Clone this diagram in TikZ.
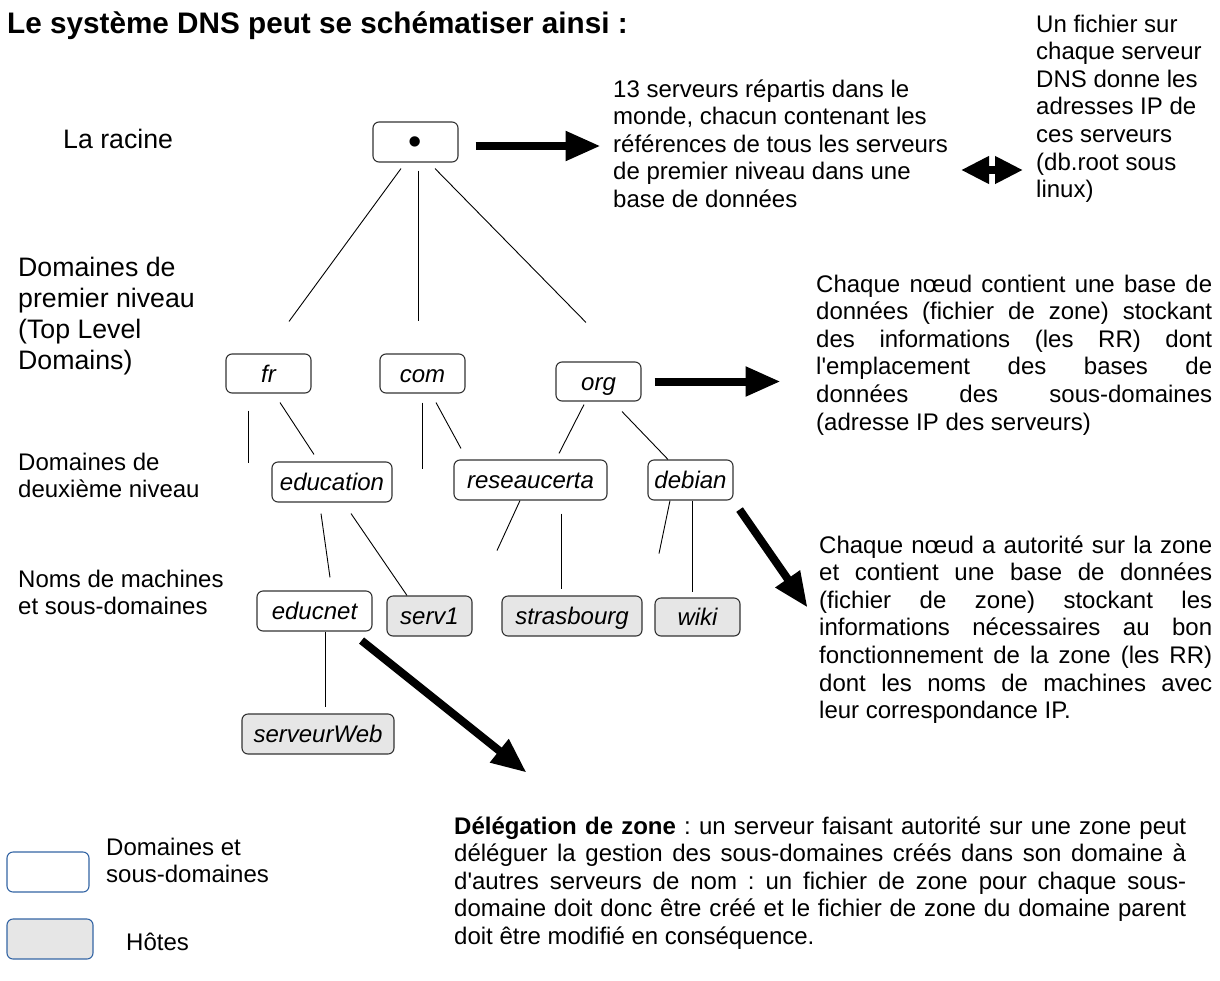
\documentclass[tikz,border=0pt]{standalone}
\usepackage{fontspec}
\setmainfont{Liberation Sans}
\usetikzlibrary{arrows.meta}

\definecolor{hostgray}{HTML}{E6E6E6}
\definecolor{legendblue}{HTML}{3465A4}
\definecolor{boxline}{HTML}{333333}

\begin{document}
\begin{tikzpicture}[
    x=1pt, y=-1pt,
    every node/.style={
        inner sep=0pt,
        font=\fontsize{24}{27.6}\selectfont\frenchspacing
    },
    dombox/.style={
        draw=boxline,
        line width=1.1pt,
        rounded corners=6pt,
        fill=white,
        minimum width=85pt,
        minimum height=40pt,
        text height=22pt,
        text depth=5pt,
        font=\fontsize{24}{27.6}\selectfont\itshape
    },
    hostbox/.style={
        dombox,
        fill=hostgray
    },
    link/.style={
        draw,
        line width=0.9pt
    },
    bigarrow/.style={
        draw,
        line width=8pt,
        -{Triangle[length=35pt,width=28pt]}
    },
    leveltext/.style={
        anchor=base west,
        align=left
    },
    bigtext/.style={
        leveltext,
        font=\fontsize{26.7}{30.7}\selectfont
    },
    blocktext/.style={
        anchor=base west,
        align=justify,
        execute at begin node={\tolerance=10000\hyphenpenalty=10000}
    },
    ]
    \useasboundingbox (0,0) rectangle (1220,980);

    % title
    \node[anchor=base west, font=\fontsize{29.7}{34}\selectfont\bfseries] (title) at (7,33)
        {Le système DNS peut se schématiser ainsi :};

    % levels on the left (base = last line)
    \node[bigtext] (lvl root) at (63,148) {La racine};
    \node[bigtext] (lvl first) at (18,369) {Domaines de\\premier niveau\\(Top Level\\Domains)};
    \node[leveltext] (lvl second) at (18,497.6) {Domaines de\\deuxième niveau};
    \node[leveltext] (lvl hosts) at (18,614.6) {Noms de machines\\et sous-domaines};

    % the tree
    \node[dombox, text height=25.2pt, text depth=0pt] (root) at (415.5,142)
        {\upshape\fontsize{38}{38}\selectfont\textbullet};
    \node[dombox, minimum height=39pt] (fr) at (268.5,373.5) {fr};
    \node[dombox, minimum height=39pt] (com) at (422.5,373.5) {com};
    \node[dombox, minimum height=39pt] (org) at (598.5,381.5) {org};
    \node[dombox, minimum width=120pt] (education) at (332,482) {education};
    \node[dombox, minimum width=153pt] (reseaucerta) at (530.5,480) {reseaucerta};
    \node[dombox] (debian) at (690.5,480) {debian};
    \node[dombox, minimum width=115pt] (educnet) at (314.5,611) {educnet};
    \node[hostbox] (serv1) at (429.5,616) {serv1};
    \node[hostbox, minimum width=140pt] (strasbourg) at (572,616) {strasbourg};
    \node[hostbox, minimum height=38pt] (wiki) at (697.5,617) {wiki};
    \node[hostbox, minimum width=152pt] (serveurWeb) at (318,734) {serveurWeb};

    \draw[link] ([shift={(-14.5,6)}]root.south) -- ([shift={(20.5,-32)}]fr.north);
    \draw[link] ([shift={(2.5,8)}]root.south) -- ([shift={(-4.5,-32)}]com.north);
    \draw[link] ([shift={(19.5,6)}]root.south) -- ([shift={(-12.5,-39)}]org.north);
    \draw[link] ([shift={(-20.5,17)}]fr.south) -- ++(0,52);
    \draw[link] ([shift={(11.5,9)}]fr.south) -- ([shift={(-18,-7)}]education.north);
    \draw[link] ([shift={(-0.5,9)}]com.south) -- ++(0,66);
    \draw[link] ([shift={(13.5,9)}]com.south) -- ([shift={(-69.5,-11)}]reseaucerta.north);
    \draw[link] ([shift={(-14.5,3)}]org.south) -- ([shift={(28.5,-6)}]reseaucerta.north);
    \draw[link] ([shift={(23.5,10)}]org.south) -- ([shift={(-22.5,0)}]debian.north);
    \draw[link] ([shift={(-11,11)}]education.south) -- ([shift={(15.5,-13)}]educnet.north);
    \draw[link] ([shift={(19,11)}]education.south) -- ([shift={(-22.5,0)}]serv1.north);
    \draw[link] ([shift={(-10.5,0)}]reseaucerta.south) -- ++(-23,50);
    \draw[link] ([shift={(30.5,13)}]reseaucerta.south) -- ([shift={(-11,-6)}]strasbourg.north);
    \draw[link] ([shift={(-20.5,0)}]debian.south) -- ++(-11,53);
    \draw[link] ([shift={(1.5,0)}]debian.south) -- ([shift={(-5.5,-5)}]wiki.north);
    \draw[link] ([shift={(10.5,0)}]educnet.south) -- ([shift={(7,-6)}]serveurWeb.north);

    % explanations
    \node[leveltext] (rootinfo) at (613,207.4)
        {13 serveurs répartis dans le\\monde, chacun contenant les\\références de tous les serveurs\\de premier niveau dans une\\base de données};
    \node[leveltext] (dbroot) at (1036,197.6)
        {Un fichier sur\\chaque serveur\\DNS donne les\\adresses IP de\\ces serveurs\\(db.root sous\\linux)};
    \node[blocktext, text width=396pt] (orginfo) at (816,292)
        {Chaque nœud contient une base de\linebreak données (fichier de zone) stockant\linebreak des informations (les RR) dont\linebreak l\textquotesingle emplacement des bases de\linebreak données des sous-domaines\linebreak (adresse IP des serveurs)};
    \node[blocktext, text width=393pt] (zoneinfo) at (819,553)
        {Chaque nœud a autorité sur la zone\linebreak et contient une base de données\linebreak (fichier de zone) stockant les\linebreak informations nécessaires au bon\linebreak fonctionnement de la zone (les RR)\linebreak dont les noms de machines avec\linebreak leur correspondance IP.};
    \node[blocktext, text width=732pt] (delegation) at (454,834)
        {\textbf{Délégation de zone} : un serveur faisant autorité sur une zone peut\linebreak déléguer la gestion des sous-domaines créés dans son domaine à\linebreak d\textquotesingle autres serveurs de nom : un fichier de zone pour chaque sous-\linebreak domaine doit donc être créé et le fichier de zone du domaine parent\linebreak doit être modifié en conséquence.};

    % thick arrows
    \draw[bigarrow] ([shift={(17,4)}]root.east) -- ++(125,0);
    \draw[bigarrow] ([shift={(13,0)}]org.east) -- ++(126,0);
    \draw[bigarrow] ([shift={(6,9)}]debian.south east) -- ++(68,98);
    \draw[bigarrow] ([shift={(-11,9)}]educnet.south east) -- ++(165,132);
    \coordinate (dbl left) at (961,170);
    \coordinate (dbl right) at (1023,170);
    \draw[line width=8pt, {Triangle[length=28pt,width=26pt]}-{Triangle[length=28pt,width=26pt]}]
        (dbl left) -- (dbl right);

    % legend
    \node[dombox, draw=legendblue, minimum width=82pt] (leg dom) at (48,872) {};
    \node[hostbox, draw=legendblue, minimum width=86pt] (leg host) at (50,939) {};
    \node[leveltext] (leg dom text) at (106,882.6) {Domaines et\\sous-domaines};
    \node[leveltext] (leg host text) at (126,950) {Hôtes};
\end{tikzpicture}
\end{document}
